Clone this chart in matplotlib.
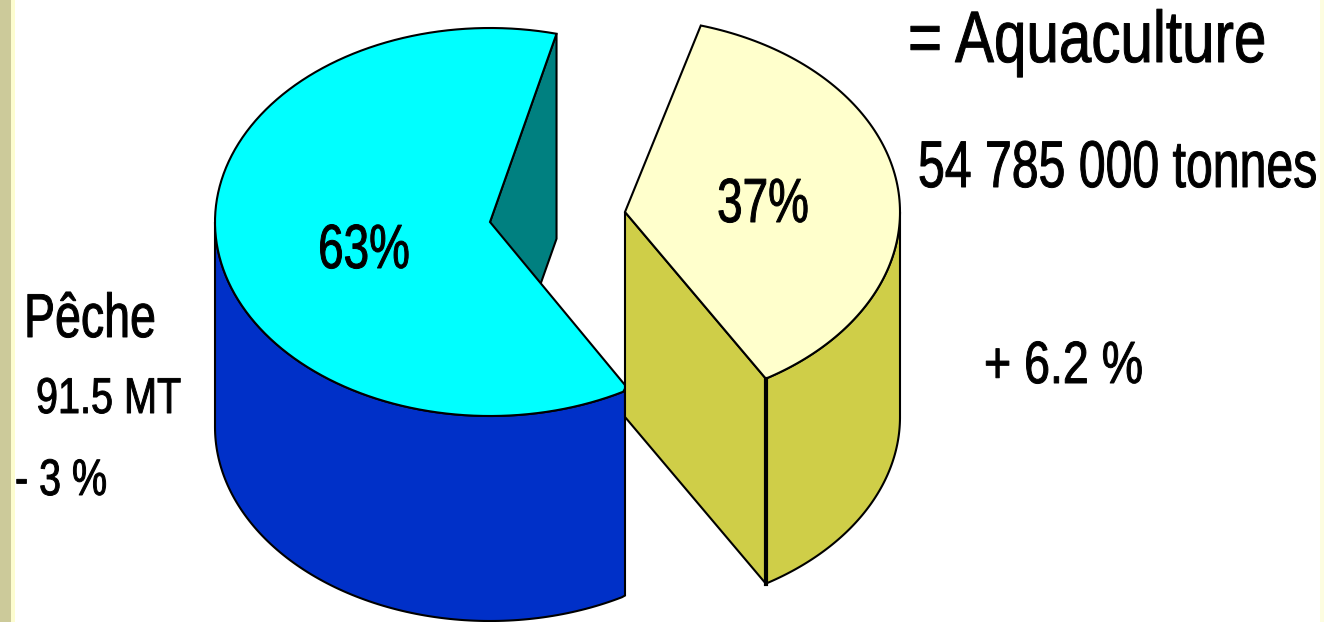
import numpy as np
from matplotlib import pyplot as plt
from matplotlib.patches import Polygon
from matplotlib.patheffects import AbstractPathEffect
from matplotlib.transforms import Affine2D

# udeli u procentima
nazivi = ['Pêche', 'Aquaculture']
udeli = [63, 37]
oznake = ['63%', '37%']

plt.rcParams['font.family'] = ['Liberation Sans', 'DejaVu Sans']

fig = plt.figure(figsize=(13.24, 6.22), dpi=100)
ax = fig.add_axes([0, 0, 1, 1])
ax.set_xlim(0, 1324)
ax.set_ylim(622, 0)
ax.axis('off')

# elipsa gornje povrsine i visina valjka
rx, ry = 275, 194
dubina = 205


class Rastegni(AbstractPathEffect):
    # slova su u originalu razvucena po visini i malo deblja
    def __init__(self, s):
        self.s = s

    def draw_path(self, renderer, gc, tpath, affine, rgbFace=None):
        y0 = affine.get_matrix()[1, 2]
        a = affine + Affine2D().translate(0, -y0).scale(1, self.s).translate(0, y0)
        gc0 = renderer.new_gc()
        gc0.copy_properties(gc)
        gc0.set_foreground('black')
        gc0.set_linewidth(0.7)
        renderer.draw_path(gc0, tpath, a, rgbFace)
        gc0.restore()


def natpis(x, y, tekst, velicina, s, ha='left'):
    ax.text(x, y, tekst, fontsize=velicina, ha=ha, va='baseline', zorder=7, path_effects=[Rastegni(s)])


def luk(cx, cy, od, do):
    t = np.radians(np.linspace(od, do, 120))
    return np.column_stack([cx + rx * np.cos(t), cy - ry * np.sin(t)])


def zid(tacke):
    # spusta niz tacaka za visinu valjka i zatvara povrsinu
    return np.vstack([tacke, tacke[::-1] + [0, dubina]])


def crtaj(tacke, boja, z, lw=1.5, desno=None):
    tacke = np.array(tacke)
    if desno is not None:
        tacke[:, 0] = np.minimum(tacke[:, 0], desno)
    ax.add_patch(Polygon(tacke, closed=True, facecolor=boja, edgecolor='black', linewidth=lw, zorder=z))


# traka sa leve strane
ax.axvspan(0, 11, color='#CCCA9A', lw=0, zorder=0)
ax.axvspan(11, 15, color='#FDFDD0', lw=0, zorder=0)
ax.axvspan(1320, 1324, color='#FDFDE0', lw=0, zorder=0)

# veliki isecak, desna strana je odsecena kod x=625
cx, cy = 490, 222
cx2, cy2 = 625, 212
start = 76
kraj = start + 360 * udeli[0] / 100
centar = np.array([[cx, cy]])
crtaj(zid(np.vstack([centar, luk(cx, cy, start, start)])), '#008080', 1)
crtaj(zid(luk(cx, cy, 180, kraj)), '#0030C8', 2, desno=cx2)
crtaj(np.vstack([centar, luk(cx, cy, start, kraj)]), '#00FFFF', 3, desno=cx2)

# mali isecak, izvucen udesno
start2 = 74
kraj2 = start2 - 360 * udeli[1] / 100
centar2 = np.array([[cx2, cy2]])
dno = luk(cx2, cy2, kraj2, kraj2)
crtaj(zid(np.vstack([centar2, dno])), '#CFCE48', 4)
crtaj(zid(luk(cx2, cy2, kraj2, 0)), '#CFCE48', 4)
crtaj(np.vstack([centar2, luk(cx2, cy2, start2, kraj2)]), '#FFFFCC', 5)
ax.plot([dno[0, 0], dno[0, 0]], [dno[0, 1], dno[0, 1] + dubina], color='black', lw=3, zorder=6)

natpis(364, 268, oznake[0], 33, 1.36, ha='center')
natpis(763, 222, oznake[1], 33, 1.36, ha='center')

# natpisi
natpis(908, 62, '= ' + nazivi[1], 42, 1.25)
natpis(918, 187, '54 785 000 tonnes', 34.7, 1.37)
natpis(984, 383, '+ 6.2 %', 33.5, 1.28)
natpis(24, 337, nazivi[0], 33.5, 1.33)
natpis(36, 413, '91.5 MT', 28.5, 1.27)
natpis(15, 495, '- 3 %', 28.4, 1.3)

plt.savefig('out.png', dpi=100)
